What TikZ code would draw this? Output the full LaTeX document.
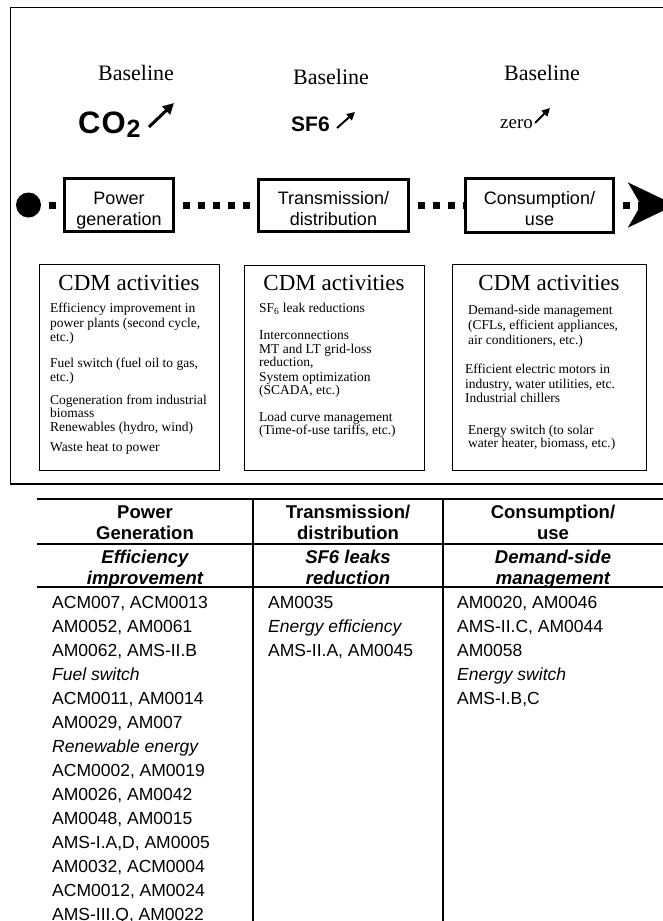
\documentclass[tikz,border=0pt]{standalone}
\usepackage{fontspec}
\setmainfont{Liberation Serif}
\setsansfont{Liberation Sans}
\usetikzlibrary{arrows.meta}

\newcommand{\fsz}[1]{\fontsize{#1}{#1}\selectfont}

\tikzset{
  flowbox/.style={draw, line width=3pt, align=center, inner sep=0pt,
    font=\sffamily\fontsize{18}{21}\selectfont,
    text height=44pt, text depth=4pt},
  flowline/.style={line width=7pt, dash pattern=on 7pt off 8pt, dash phase=7pt},
  cdmbox/.style={draw, line width=1pt},
  cdmtitle/.style={anchor=base, inner sep=0pt, font=\fsz{23}},
  cdmtext/.style={anchor=base west, inner sep=0pt, font=\fsz{13.5}},
  trend/.style={line width=2pt, -{Triangle[length=8pt,width=8pt]}},
  tabline/.style={line width=2pt},
  tabhead/.style={anchor=base, align=center, inner sep=0pt,
    font=\sffamily\bfseries\fontsize{18.5}{21}\selectfont},
  tabsub/.style={tabhead, font=\sffamily\bfseries\itshape\fontsize{18.5}{21}\selectfont},
  tabtext/.style={anchor=base west, inner sep=0pt, font=\sffamily\fsz{17.5}},
}

\begin{document}
\begin{tikzpicture}[x=1pt,y=-1pt]
  \useasboundingbox (0,0) rectangle (662,921);

  % frame of the upper part
  \draw[line width=1.3pt] (10.5,7.5) rectangle (672,484);

  % baselines
  \node[anchor=base, font=\fsz{22}] (base1) at (136,80) {Baseline};
  \node[anchor=base, font=\fsz{22}] (base2) at (331,84) {Baseline};
  \node[anchor=base, font=\fsz{22}] (base3) at (542,80) {Baseline};

  \node[anchor=base west, inner sep=0pt, font=\sffamily\bfseries\fsz{31}] (co2)
    at (78,133) {C\kern1ptO\kern1pt\raisebox{-4pt}{\fsz{25}2}};
  \draw[trend, line width=3pt, -{Triangle[length=11pt,width=11pt]}] (149,127) -- (174,103);
  \node[anchor=base west, inner sep=0pt, font=\sffamily\bfseries\fsz{21}] (sf6)
    at (291,131) {SF6};
  \draw[trend] (337,128) -- (355,112);
  \node[anchor=base west, inner sep=0pt, font=\fsz{19}] (zero) at (500,128) {zero};
  \draw[trend] (535,123) -- (550,108);

  % chain
  \node[circle, fill, inner sep=0pt, minimum size=25pt] (start) at (28.5,205) {};
  \node[flowbox, minimum width=109pt, minimum height=53pt] (power) at (119,205) {Power\\generation};
  \node[flowbox, minimum width=150pt, minimum height=52pt] (trans) at (333.5,205) {Transmission/\\distribution};
  \node[flowbox, minimum width=148pt, minimum height=54pt] (cons) at (539.5,205) {Consumption/\\use};
  \coordinate (tip) at (675,205);

  \draw[flowline] (start) -- (power);
  \draw[flowline] (power) -- (trans);
  \draw[flowline] (trans) -- (cons);
  \draw[flowline, -{Stealth[length=47pt,width=45pt,inset=13pt,line width=0.1pt]}] (cons) -- (tip);

  % CDM activities
  \draw[cdmbox] (39,264) rectangle (219,470);
  \draw[cdmbox] (244,265) rectangle (424,470);
  \draw[cdmbox] (452,264) rectangle (646,470);
  \node[cdmtitle] (cdm1) at (129,290) {CDM activities};
  \node[cdmtitle] (cdm2) at (334,290) {CDM activities};
  \node[cdmtitle] (cdm3) at (549,290) {CDM activities};

  \foreach \y/\t [count=\i] in {312/{Efficiency improvement in},
      327/{power plants (second cycle,}, 341/{etc.)},
      367/{Fuel switch (fuel oil to gas,}, 381/{etc.)},
      404/{Cogeneration from industrial}, 417/{biomass},
      431/{Renewables (hydro, wind)}, 451/{Waste heat to power}}
    \node[cdmtext] (a\i) at (50,\y) {\t};

  \foreach \y/\t [count=\i] in {312/{SF\textsubscript{6} leak reductions},
      339/{Interconnections}, 353/{MT and LT grid-loss}, 366/{reduction,},
      381/{System optimization}, 394/{(SCADA, etc.)},
      421/{Load curve management}, 434/{(Time-of-use tariffs, etc.)}}
    \node[cdmtext] (b\i) at (259,\y) {\t};

  \foreach \x/\y/\t [count=\i] in {468/314/{Demand-side management},
      468/329/{(CFLs, efficient appliances,}, 468/344/{air conditioners, etc.)},
      465/373/{Efficient electric motors in}, 465/388/{industry, water utilities, etc.},
      465/402/{Industrial chillers},
      468/434/{Energy switch (to solar}, 468/447/{water heater, biomass, etc.)}}
    \node[cdmtext] (c\i) at (\x,\y) {\t};

  % table
  \draw[line width=2.6pt] (37,499) -- (668,499);
  \draw[tabline] (37,544) -- (668,544);
  \draw[tabline] (37,587) -- (668,587);
  \draw[tabline] (253,499) -- (253,925);
  \draw[tabline] (443,499) -- (443,925);

  \node[tabhead] (h1) at (145,539) {Power\\Generation};
  \node[tabhead] (h2) at (348,539) {Transmission/\\distribution};
  \node[tabhead] (h3) at (553,539) {Consumption/\\use};
  \node[tabsub] (s1) at (145,584) {Efficiency\\improvement};
  \node[tabsub] (s2) at (348,584) {SF6 leaks\\reduction};
  \node[tabsub] (s3) at (553,584) {Demand-side\\management};

  \foreach \t [count=\i from 0] in {{ACM007, ACM0013}, {AM0052, AM0061},
      {AM0062, AMS-II.B}, \textit{Fuel switch}, {ACM0011, AM0014},
      {AM0029, AM007}, \textit{Renewable energy}, {ACM0002, AM0019},
      {AM0026, AM0042}, {AM0048, AM0015}, {AMS-I.A,D, AM0005},
      {AM0032, ACM0004}, {ACM0012, AM0024}, {AMS-III.Q, AM0022}}
    \node[tabtext] (pg\i) at (52,{608+24*\i}) {\t};

  \foreach \t [count=\i from 0] in {AM0035, \textit{Energy efficiency},
      {AMS-II.A, AM0045}}
    \node[tabtext] (td\i) at (268,{608+24*\i}) {\t};

  \foreach \t [count=\i from 0] in {{AM0020, AM0046}, {AMS-II.C, AM0044},
      AM0058, \textit{Energy switch}, {AMS-I.B,C}}
    \node[tabtext] (cu\i) at (457,{608+24*\i}) {\t};
\end{tikzpicture}
\end{document}
